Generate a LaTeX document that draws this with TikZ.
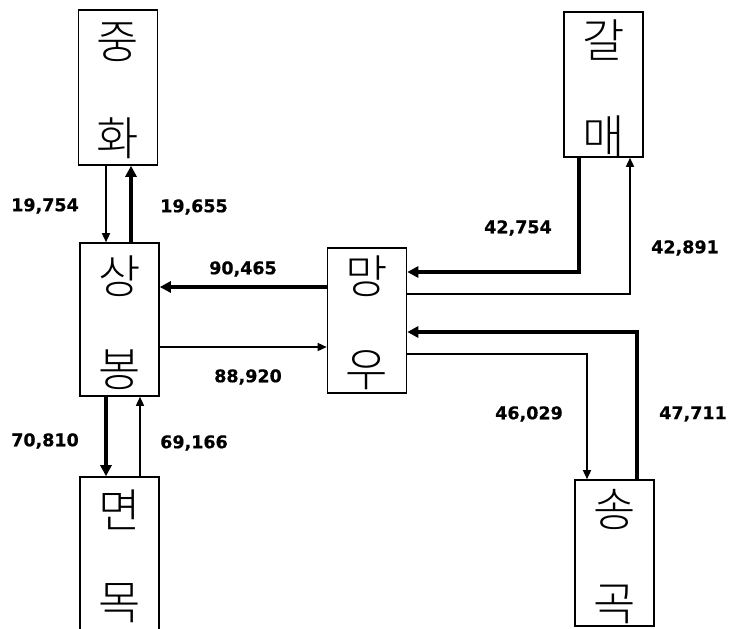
\documentclass[tikz,border=0pt]{standalone}
\usepackage{fontspec}
\newfontfamily\kor{Noto Sans CJK KR Light}
\newfontfamily\numf[FakeBold=0.6]{DejaVu Sans Bold}
\usetikzlibrary{arrows.meta}
\tikzset{
  place/.style={draw, line width=1.6pt, minimum width=79pt, inner sep=0pt},
  hangul/.style={font=\kor\fontsize{46}{50}\selectfont, inner sep=0pt, anchor=center},
  num/.style={font=\numf\fontsize{17.5}{20}\selectfont, inner sep=0pt},
  flowthin/.style={line width=1.5pt, -{Triangle[length=9pt,width=8pt]}},
  flowthick/.style={line width=4pt, -{Triangle[length=11pt,width=11pt]}},
}
\begin{document}
\begin{tikzpicture}[x=1pt,y=-1pt]
\useasboundingbox (0,0) rectangle (732,629);
\clip (0,0) rectangle (732,629);
% places
\node[place, minimum height=155pt] (zh) at (118,87.5) {};
\node[place, minimum height=153pt] (sb) at (119.5,319.5) {};
\node[place, minimum height=164pt] (mm) at (119.5,559) {};
\node[place, minimum height=145pt] (mw) at (367,320.5) {};
\node[place, minimum height=145pt] (gm) at (603.5,84.5) {};
\node[place, minimum height=146pt] (sg) at (614.5,553) {};
% place names
\node[hangul] (zh1) at ([yshift=-33pt]zh.north) {중};
\node[hangul] (zh2) at ([yshift=-129pt]zh.north) {화};
\node[hangul] (sb1) at ([yshift=-34pt]sb.north) {상};
\node[hangul] (sb2) at ([yshift=-128pt]sb.north) {봉};
\node[hangul] (mm1) at ([yshift=-34pt]mm.north) {면};
\node[hangul] (mm2) at ([yshift=-127pt]mm.north) {목};
\node[hangul] (mw1) at ([yshift=-29pt]mw.north) {망};
\node[hangul] (mw2) at ([yshift=-123pt]mw.north) {우};
\node[hangul] (gm1) at ([yshift=-29pt]gm.north) {갈};
\node[hangul] (gm2) at ([yshift=-125pt]gm.north) {매};
\node[hangul] (sg1) at ([yshift=-30pt]sg.north) {송};
\node[hangul] (sg2) at ([yshift=-125pt]sg.north) {곡};
% column / row helpers
\coordinate (xa) at (106,0);
\coordinate (xb) at (131,0);
\coordinate (xc) at (140,0);
\coordinate (xd) at (579,0);
\coordinate (xe) at (630,0);
\coordinate (xf) at (587,0);
\coordinate (xg) at (637,0);
\coordinate (ya) at (0,287);
\coordinate (yb) at (0,347);
\coordinate (yc) at (0,272);
\coordinate (yd) at (0,294);
\coordinate (ye) at (0,332);
\coordinate (yf) at (0,354);
% flows
\draw[flowthin] (zh.south -| xa) -- (sb.north -| xa);
\draw[flowthick] (sb.north -| xb) -- (zh.south -| xb);
\draw[flowthick] (mw.west |- ya) -- (sb.east |- ya);
\draw[flowthin] (sb.east |- yb) -- (mw.west |- yb);
\draw[flowthick] (sb.south -| xa) -- (mm.north -| xa);
\draw[flowthin] (mm.north -| xc) -- (sb.south -| xc);
\draw[flowthick] (gm.south -| xd) |- (mw.east |- yc);
\draw[flowthin] (mw.east |- yd) -| (gm.south -| xe);
\draw[flowthick] (sg.north -| xg) |- (mw.east |- ye);
\draw[flowthin] (mw.east |- yf) -| (sg.north -| xf);
% labels
\node[num] (l1) at (45,206) {19,754};
\node[num] (l2) at (194,207) {19,655};
\node[num] (l3) at (243,269) {90,465};
\node[num] (l4) at (248,377) {88,920};
\node[num] (l5) at (45,441) {70,810};
\node[num] (l6) at (194,443) {69,166};
\node[num] (l7) at (518,228) {42,754};
\node[num] (l8) at (685,248) {42,891};
\node[num] (l9) at (529,414) {46,029};
\node[num] (l10) at (693,414) {47,711};
\end{tikzpicture}
\end{document}
